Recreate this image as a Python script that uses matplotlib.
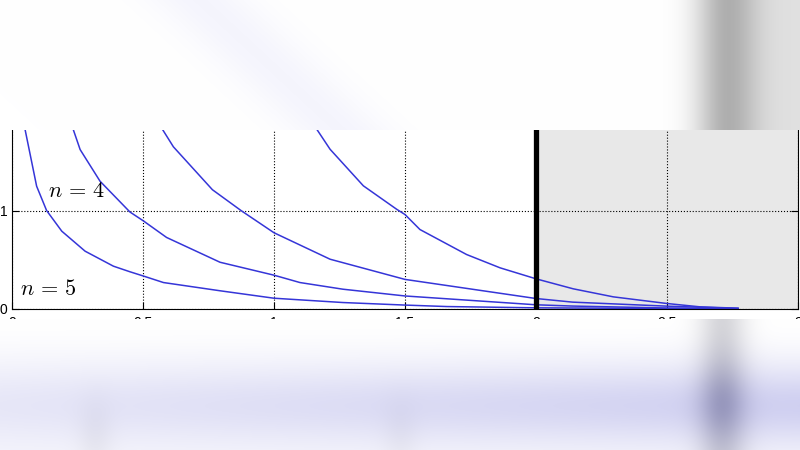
import numpy as np
import matplotlib
matplotlib.use('Agg')
import matplotlib.pyplot as plt

plt.rcParams['mathtext.fontset'] = 'cm'
plt.rcParams['font.family'] = ['Liberation Sans', 'DejaVu Sans']

# curves (x, y)
curve_a_x = [0.035, 0.05, 0.094, 0.132, 0.19, 0.279, 0.387, 0.45, 0.501, 0.578, 0.794, 1.0, 1.263, 1.5, 1.66, 2.0, 2.5, 2.77]
curve_a_y = [2.05, 1.83, 1.253, 1.005, 0.794, 0.59, 0.437, 0.38, 0.337, 0.27, 0.186, 0.11, 0.066, 0.04, 0.025, 0.012, 0.005, 0.003]

curve_b_x = [0.205, 0.234, 0.26, 0.336, 0.45, 0.501, 0.59, 0.794, 1.0, 1.099, 1.263, 1.5, 2.0, 2.14, 2.5, 2.77]
curve_b_y = [2.05, 1.83, 1.627, 1.304, 0.99, 0.90, 0.73, 0.477, 0.345, 0.27, 0.202, 0.133, 0.043, 0.03, 0.01, 0.004]

curve_c_x = [0.525, 0.575, 0.616, 0.765, 0.875, 1.0, 1.214, 1.5, 2.0, 2.14, 2.5, 2.77]
curve_c_y = [2.05, 1.83, 1.655, 1.217, 1.003, 0.778, 0.508, 0.302, 0.107, 0.07, 0.029, 0.006]

curve_d_x = [1.11, 1.163, 1.214, 1.341, 1.468, 1.5, 1.557, 1.735, 1.863, 2.0, 2.142, 2.295, 2.5, 2.626, 2.772]
curve_d_y = [2.05, 1.835, 1.63, 1.257, 1.018, 0.964, 0.811, 0.556, 0.42, 0.308, 0.206, 0.124, 0.056, 0.022, 0.008]

xticks = [0, 0.5, 1, 1.5, 2, 2.5, 3]
xtick_labels = ['0', '0.5', '1', '1.5', '2', '2.5', '3']
yticks = [0, 1, 2]
ytick_labels = ['0', '1', '2']

labels = [r'$n\,=\,4$', r'$n\,=\,5$']
label_pos = [(0.137, 1.20), (0.03, 0.20)]

shade_from = 2.0

fig = plt.figure(figsize=(8, 4.5), dpi=100)
fig.patch.set_facecolor('white')

# main axes: x 0..3 -> px 12..798, y 0 at px 309, 98 px per unit
ax = fig.add_axes([12/800, (450-309)/450, 786/800, 2.05*98/450])
ax.set_xlim(0, 3)
ax.set_ylim(0, 2.05)
ax.axvspan(shade_from, 3, color='#e8e8e8', zorder=0, lw=0)
ax.set_axisbelow('line')
ax.grid(True, ls=':', color='k', lw=0.8)

line_col = '#3535d8'
for cx, cy in [(curve_a_x, curve_a_y), (curve_b_x, curve_b_y),
               (curve_c_x, curve_c_y), (curve_d_x, curve_d_y)]:
    ax.plot(cx, cy, color=line_col, lw=1.1)

ax.axvline(shade_from, color='k', lw=3.8, zorder=3)

for lab, (lx, ly) in zip(labels, label_pos):
    ax.text(lx, ly, lab, fontsize=16, va='center', ha='left')

ax.set_xticks(xticks)
ax.set_xticklabels(xtick_labels)
ax.set_yticks(yticks)
ax.set_yticklabels(ytick_labels)
ax.tick_params(direction='in', length=5, width=0.8, top=True, right=True,
               labelsize=10, colors='k')
ax.tick_params(axis='x', pad=5)
ax.tick_params(axis='y', pad=3.5)
for s in ax.spines.values():
    s.set_color('k')
    s.set_linewidth(0.8)

# blurred video background above and below the plot
H, W = 450, 800
yy, xx = np.mgrid[0:H, 0:W].astype(float)
img = np.ones((H, W, 4))

top = yy < 130
d = ((xx - 200) * 130 - yy * 140) / np.hypot(130, 140)
streak = 0.04 * np.exp(-(d / 35) ** 2)
grey_top = 0.29 * np.exp(-((xx - 725) / 30) ** 2) + 0.12 / (1 + np.exp(-(xx - 740) / 10))
for c, k in zip(range(3), [1.0, 1.0, 0.2]):
    img[..., c] -= np.where(top, streak * k + grey_top, 0)

bot = yy >= 319
lav = np.exp(-((yy - 405) / 38) ** 2) * (0.4 + 0.6 * xx / 800)
haze = 0.035 * (1 - np.exp(-((yy - 319) / 40) ** 2))
grey_bot = 0.24 * np.exp(-((xx - 722) / 24) ** 2) * (0.7 + 0.3 * np.exp(-((yy - 400) / 40) ** 2))
smudge = 0.04 * np.exp(-((xx - 95) / 18) ** 2) * np.exp(-((yy - 440) / 40) ** 2)
smudge += 0.03 * np.exp(-((xx - 400) / 18) ** 2) * np.exp(-((yy - 440) / 40) ** 2)
for c, k in zip(range(3), [1.0, 1.0, 0.3]):
    img[..., c] -= np.where(bot, 0.15 * lav * k + haze * k + grey_bot * (0.95 if c < 2 else 0.85) + smudge, 0)

img[..., :3] = np.clip(img[..., :3], 0, 1)
img[..., 3] = np.where(top | bot, 1.0, 0.0)

bg = fig.add_axes([0, 0, 1, 1], zorder=10)
bg.imshow(img, extent=(0, W, H, 0), aspect='auto', interpolation='bilinear')
bg.set_xlim(0, W)
bg.set_ylim(H, 0)
bg.axis('off')

fig.savefig('out.png', dpi=100)
